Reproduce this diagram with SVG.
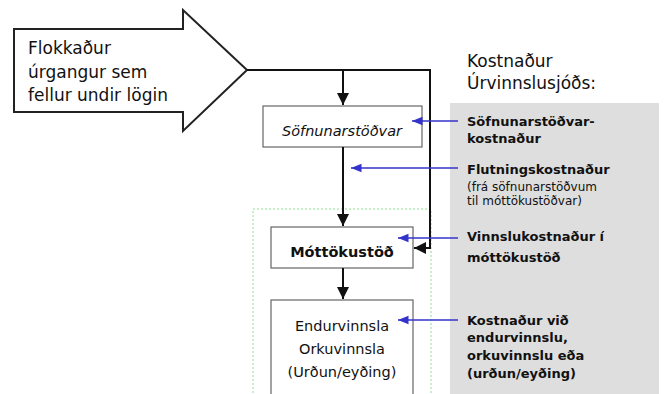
<svg xmlns="http://www.w3.org/2000/svg" width="664" height="394" viewBox="0 0 664 394">
<style>
text{font-family:"DejaVu Sans","Liberation Sans",sans-serif;fill:#111}
.big{font-size:17px}
.box{font-size:14.5px}
.lab{font-size:13px;font-weight:bold}
.sm{font-size:12px}
.blk{stroke:#111;stroke-width:2;fill:none}
.blu{stroke:#3333cc;stroke-width:1.5;fill:none}
.node{fill:#fff;stroke:#666;stroke-width:1.2}
</style>
<defs>
<marker id="ab" viewBox="0 0 10 10" refX="10" refY="5" markerWidth="6" markerHeight="6" orient="auto" markerUnits="strokeWidth"><path d="M0,0 L10,5 L0,10 z" fill="#111"/></marker>
<marker id="au" viewBox="0 0 10 10" refX="10" refY="5" markerWidth="7" markerHeight="7" orient="auto" markerUnits="strokeWidth"><path d="M0,1 L10,5 L0,9 z" fill="#3333cc"/></marker>
</defs>
<rect id="costpanel" x="450" y="103" width="209" height="300" fill="#dedede"/>
<rect id="zone" x="253" y="209" width="178" height="200" fill="none" stroke="#90e090" stroke-width="1" stroke-dasharray="2,2"/>
<g id="input">
<polygon points="14,29 183,29 183,10 247,70 183,131 183,112 14,112" fill="#fff" stroke="#222" stroke-width="2"/>
<text class="big" x="28" y="54">Flokkaður</text>
<text class="big" x="28" y="78">úrgangur sem</text>
<text class="big" x="28" y="101">fellur undir lögin</text>
</g>
<g id="safn">
<rect class="node" x="263" y="106" width="159" height="41"/>
<text class="box" x="342" y="136" text-anchor="middle" font-style="italic">Söfnunarstöðvar</text>
</g>
<g id="mott">
<rect class="node" x="271" y="227" width="142" height="41"/>
<text class="box" x="342" y="257" text-anchor="middle" font-weight="bold">Móttökustöð</text>
</g>
<g id="endur">
<rect class="node" x="271" y="300" width="142" height="110"/>
<text class="box" x="342" y="331" text-anchor="middle">Endurvinnsla</text>
<text class="box" x="342" y="354" text-anchor="middle">Orkuvinnsla</text>
<text class="box" x="342" y="377" text-anchor="middle">(Urðun/eyðing)</text>
</g>
<g id="title">
<text x="467" y="67" style="font-size:17px">Kostnaður</text>
<text x="467" y="89" style="font-size:17px">Úrvinnslusjóðs:</text>
</g>
<g id="c1"><text class="lab" x="467" y="126">Söfnunarstöðvar-</text><text class="lab" x="467" y="143">kostnaður</text></g>
<g id="c2"><text class="lab" x="467" y="174">Flutningskostnaður</text><text class="sm" x="467" y="191">(frá söfnunarstöðvum</text><text class="sm" x="467" y="205">til móttökustöðvar)</text></g>
<g id="c3"><text class="lab" x="467" y="241">Vinnslukostnaður í</text><text class="lab" x="467" y="262">móttökustöð</text></g>
<g id="c4"><text class="lab" x="467" y="325">Kostnaður við</text><text class="lab" x="467" y="342">endurvinnslu,</text><text class="lab" x="467" y="360">orkuvinnslu eða</text><text class="lab" x="467" y="378">(urðun/eyðing)</text></g>
<g id="connectors">
<path class="blk" d="M247,70 H430 V248 H414" marker-end="url(#ab)"/>
<path class="blk" d="M343,70 V105" marker-end="url(#ab)"/>
<path class="blk" d="M343,147 V226" marker-end="url(#ab)"/>
<path class="blk" d="M343,268 V299" marker-end="url(#ab)"/>
<path class="blu" d="M458,121 H412" marker-end="url(#au)"/>
<path class="blu" d="M458,168 H351" marker-end="url(#au)"/>
<path class="blu" d="M458,238 H398" marker-end="url(#au)"/>
<path class="blu" d="M458,320 H398" marker-end="url(#au)"/>
</g>
</svg>
